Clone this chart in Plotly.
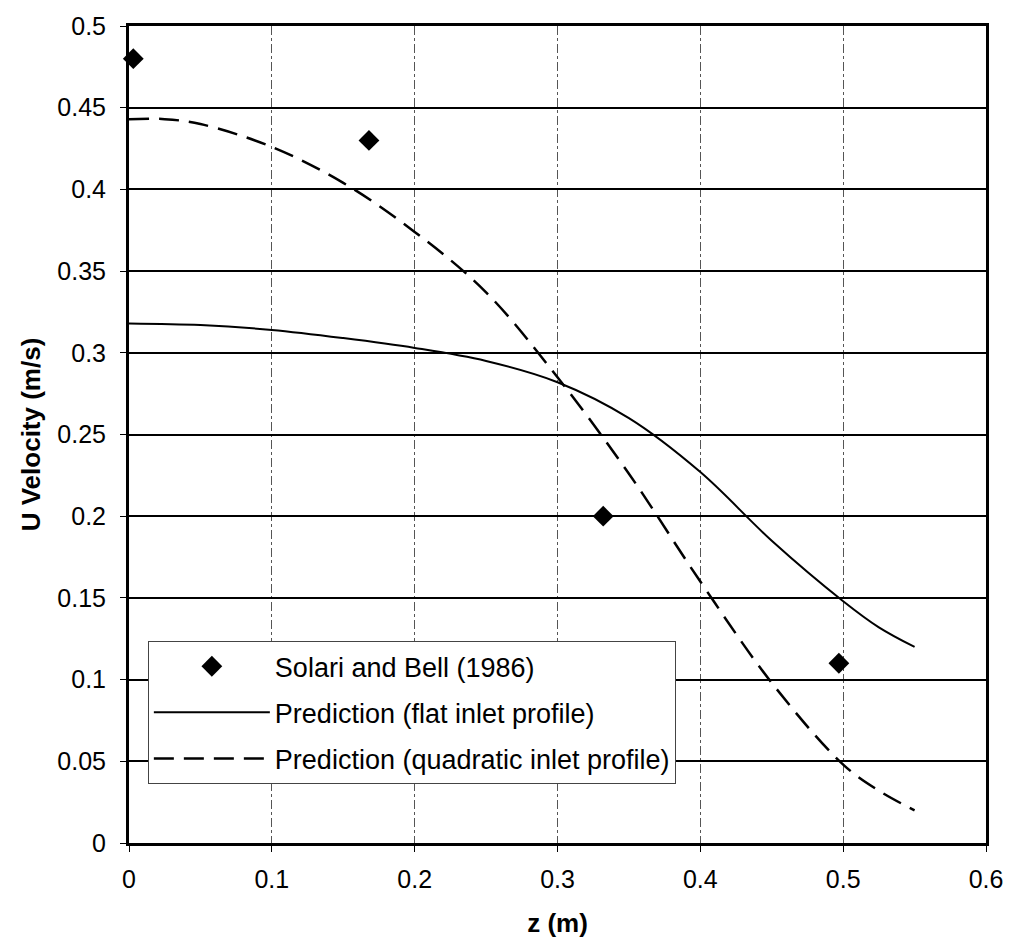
import plotly.graph_objects as go

# Experimental data (Solari and Bell, 1986)
exp_z = [0.003, 0.168, 0.332, 0.497]
exp_u = [0.48, 0.43, 0.20, 0.11]

# Prediction, flat inlet profile
flat_z = [0.0, 0.05, 0.1, 0.15, 0.2, 0.25, 0.3, 0.35, 0.4, 0.45, 0.5, 0.525, 0.55]
flat_u = [0.318, 0.317, 0.314, 0.309, 0.303, 0.295, 0.282, 0.26, 0.227, 0.185, 0.148, 0.132, 0.12]

# Prediction, quadratic inlet profile
quad_z = [0.0, 0.025, 0.05, 0.1, 0.15, 0.2, 0.25, 0.3, 0.35, 0.4, 0.45, 0.5, 0.525, 0.55]
quad_u = [0.443, 0.443, 0.44, 0.426, 0.404, 0.374, 0.337, 0.285, 0.226, 0.16, 0.098, 0.048, 0.032, 0.02]

FONT = "Liberation Sans, Arial, sans-serif"

fig = go.Figure()
fig.add_trace(go.Scatter(
    x=exp_z, y=exp_u, mode="markers", name="Solari and Bell (1986)",
    marker=dict(symbol="diamond", size=16, color="black"),
    legendgroup="a", cliponaxis=False))
fig.add_trace(go.Scatter(
    x=flat_z, y=flat_u, mode="lines", name="Prediction (flat inlet profile)",
    line=dict(color="black", width=2, shape="spline"), legendgroup="b"))
fig.add_trace(go.Scatter(
    x=quad_z, y=quad_u, mode="lines", name="Prediction (quadratic inlet profile)",
    line=dict(color="black", width=2.5, dash="20px,10px", shape="spline"), legendgroup="c"))

fig.update_layout(
    width=1015, height=948,
    margin=dict(l=129, r=20, t=19, b=105),
    paper_bgcolor="white", plot_bgcolor="white",
    font=dict(family=FONT, size=24, color="black"),
    showlegend=True,
    legend=dict(
        x=0.022, y=0.247, xanchor="left", yanchor="top",
        bgcolor="white", bordercolor="#444", borderwidth=1,
        font=dict(size=27, family=FONT),
        traceorder="grouped", tracegroupgap=8,
        itemwidth=116,
    ),
    xaxis=dict(
        range=[0, 0.6], dtick=0.1, tick0=0,
        showline=True, linecolor="black", linewidth=3, mirror=True,
        showgrid=True, gridcolor="#555", gridwidth=1, griddash="dashdot",
        ticks="outside", ticklen=6, tickcolor="black",
        tickfont=dict(size=25), zeroline=False, ticklabelstandoff=6,
        title=dict(text="<b>z (m)</b>", font=dict(size=26), standoff=22),
    ),
    yaxis=dict(
        range=[0, 0.5], dtick=0.05, tick0=0,
        showline=True, linecolor="black", linewidth=3, mirror=True,
        showgrid=True, gridcolor="black", gridwidth=1.5,
        ticks="outside", ticklen=6, tickcolor="black",
        tickfont=dict(size=25), zeroline=False, ticklabelstandoff=9,
        title=dict(text="<b>U Velocity (m/s)</b>", font=dict(size=26), standoff=10),
    ),
)

fig.write_html("out.html")
